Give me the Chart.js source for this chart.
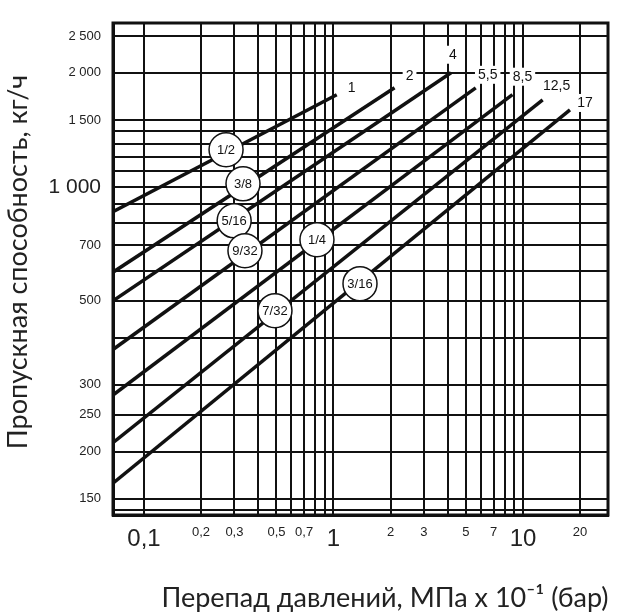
<!DOCTYPE html>
<html>
<head>
<meta charset="utf-8">
<script src="https://cdn.jsdelivr.net/npm/chart.js@4"></script>
<style>
  html, body { margin: 0; padding: 0; background: #fff; }
  #wrap { width: 640px; height: 615px; }
</style>
</head>
<body>
<div id="wrap"><canvas id="chart" width="640" height="615"></canvas></div>
<script>
// pressure drop, MPa x 10^-1 (bar) -- start and end of each line
const lineNames = ['1', '2', '4', '5,5', '8,5', '12,5', '17'];
const startDp = [0.0686, 0.0686, 0.0686, 0.0686, 0.0686, 0.0686, 0.0686];
const startQ = [859, 595, 500, 372, 282, 211, 165];
const endDp = [1.04, 2.10, 4.17, 5.63, 8.8, 12.7, 17.7];
const endQ = [1750, 1825, 2000, 1825, 1750, 1695, 1595];

// orifice markers (circles)
const circleNames = ['1/2', '3/8', '5/16', '9/32', '1/4', '3/16', '7/32'];
const circleDp = [0.271, 0.333, 0.299, 0.341, 0.818, 1.38, 0.491];
const circleQ = [1252, 1018, 813, 678, 725, 555, 471];

// grid and tick labels
const xGrid = [0.1, 0.2, 0.3, 0.4, 0.5, 0.6, 0.7, 0.8, 0.9, 1, 2, 3, 4, 5, 6, 7, 8, 9, 10, 20];
const xLabels = { 0.1: '0,1', 0.2: '0,2', 0.3: '0,3', 0.5: '0,5', 0.7: '0,7', 1: '1', 2: '2', 3: '3', 5: '5', 7: '7', 10: '10', 20: '20' };
const xBig = [0.1, 1, 10];
const yGrid = [140, 150, 200, 250, 300, 400, 500, 600, 700, 800, 900, 1000, 1100, 1200, 1300, 1400, 1500, 2000, 2500];
const yLabels = { 150: '150', 200: '200', 250: '250', 300: '300', 500: '500', 700: '700', 1000: '1 000', 1500: '1 500', 2000: '2 000', 2500: '2 500' };
const yBig = [1000];

// label offsets from line ends (px)
const endOffX = [15, 15, 2, 12, 10, 14, 15];
const endOffY = [-7, -12, -18, -13, -18, -14, -7];

const datasets = lineNames.map((n, i) => ({
  label: n,
  data: [{ x: startDp[i], y: startQ[i] }, { x: endDp[i], y: endQ[i] }],
  borderColor: '#111',
  borderWidth: 3.5,
  pointRadius: 0,
  fill: false
}));

const narrow = "'Liberation Sans Narrow', 'Liberation Sans', sans-serif";

const decorPlugin = {
  id: 'decor',
  afterDatasetsDraw(chart) {
    const ctx = chart.ctx;
    const xs = chart.scales.x, ys = chart.scales.y;
    const a = chart.chartArea;
    ctx.save();
    // frame
    ctx.lineWidth = 3;
    ctx.strokeStyle = '#111';
    ctx.strokeRect(a.left, a.top, a.right - a.left, a.bottom - a.top);
    // end labels
    ctx.font = '14px ' + narrow;
    ctx.textAlign = 'center';
    ctx.textBaseline = 'middle';
    lineNames.forEach((n, i) => {
      const px = xs.getPixelForValue(endDp[i]) + endOffX[i];
      const py = ys.getPixelForValue(endQ[i]) + endOffY[i];
      const w = ctx.measureText(n).width + 6;
      ctx.fillStyle = '#fff';
      ctx.fillRect(px - w / 2, py - 9, w, 18);
      ctx.fillStyle = '#111';
      ctx.fillText(n, px, py);
    });
    // circles
    ctx.font = '13px ' + narrow;
    circleNames.forEach((n, i) => {
      const px = xs.getPixelForValue(circleDp[i]);
      const py = ys.getPixelForValue(circleQ[i]);
      ctx.beginPath();
      ctx.arc(px, py, 17, 0, Math.PI * 2);
      ctx.fillStyle = '#fff';
      ctx.fill();
      ctx.lineWidth = 1.5;
      ctx.strokeStyle = '#111';
      ctx.stroke();
      ctx.fillStyle = '#111';
      ctx.fillText(n, px, py + 1);
    });
    // axis titles
    ctx.font = '27px Lato, "Noto Sans", sans-serif';
    ctx.fillStyle = '#222';
    ctx.fillText('Перепад давлений, МПа x 10⁻¹ (бар)', 385, 598);
    ctx.translate(18, 262);
    ctx.rotate(-Math.PI / 2);
    ctx.fillText('Пропускная способность, кг/ч', 0, 0);
    ctx.restore();
  }
};

new Chart(document.getElementById('chart'), {
  type: 'line',
  data: { datasets: datasets },
  plugins: [decorPlugin],
  options: {
    responsive: false,
    animation: false,
    layout: { padding: { top: 23, right: 32, left: 0, bottom: 0 } },
    plugins: { legend: { display: false }, tooltip: { enabled: false } },
    scales: {
      x: {
        type: 'logarithmic',
        min: 0.0686,
        max: 28.1,
        afterBuildTicks: s => { s.ticks = xGrid.map(v => ({ value: v })); },
        afterFit: s => { s.height = 100; },
        border: { color: '#111', width: 3 },
        grid: { color: '#111', lineWidth: 2, drawTicks: false },
        ticks: {
          autoSkip: false,
          maxRotation: 0,
          padding: 10,
          color: '#222',
          callback: v => xLabels[v] || '',
          font: c => xBig.includes(c.tick && c.tick.value)
            ? { size: 24, family: narrow }
            : { size: 13, family: narrow }
        }
      },
      y: {
        type: 'logarithmic',
        min: 136,
        max: 2706,
        afterBuildTicks: s => { s.ticks = yGrid.map(v => ({ value: v })); },
        afterFit: s => { s.width = 113; },
        border: { color: '#111', width: 3 },
        grid: { color: '#111', lineWidth: 2, drawTicks: false },
        ticks: {
          autoSkip: false,
          padding: 12,
          color: '#222',
          callback: v => yLabels[v] || '',
          font: c => yBig.includes(c.tick && c.tick.value)
            ? { size: 21, family: narrow }
            : { size: 13, family: narrow }
        }
      }
    }
  }
});
</script>
</body>
</html>
